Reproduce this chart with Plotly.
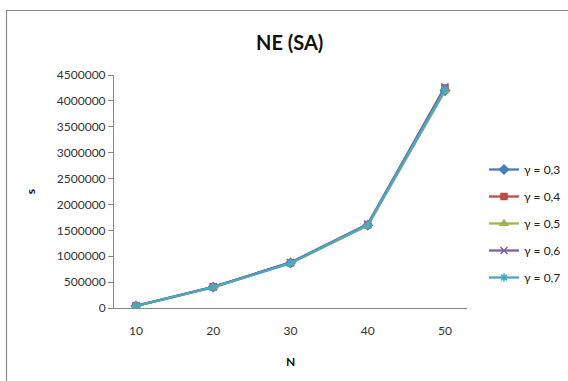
import plotly.graph_objects as go

# Problem size N (category axis)
n_values = ["10", "20", "30", "40", "50"]

# Measured s for each gamma
s_g03 = [40000, 405000, 870000, 1600000, 4200000]
s_g04 = [42000, 410000, 875000, 1610000, 4250000]
s_g05 = [38000, 400000, 865000, 1590000, 4190000]
s_g06 = [41000, 408000, 880000, 1620000, 4270000]
s_g07 = [39000, 402000, 868000, 1605000, 4220000]

series = [
    ("γ = 0,3", s_g03, "#4A7EBB", "diamond", 7),
    ("γ = 0,4", s_g04, "#BE4B48", "square", 6),
    ("γ = 0,5", s_g05, "#98B954", "triangle-up", 7),
    ("γ = 0,6", s_g06, "#7D60A0", "x-thin-open", 7),
    ("γ = 0,7", s_g07, "#46AAC5", "asterisk-open", 7),
]

FONT = "Lato, Carlito, 'Liberation Sans', sans-serif"
W, H = 568, 381
L, R, T, B = 114, 467, 75, 308  # plot area in pixels

fig = go.Figure()
for i, (name, vals, color, symbol, msize) in enumerate(series):
    fig.add_trace(go.Scatter(
        x=n_values, y=vals, name=name, mode="lines+markers",
        legendgroup=f"g{i}",
        line=dict(color=color, width=2.3),
        marker=dict(symbol=symbol, size=msize, color=color,
                    line=dict(color=color, width=1.5)),
    ))

pw, ph = R - L, B - T
def px_x(p):
    return (p - L) / pw
def px_y(p):
    return (B - p) / ph

fig.update_layout(
    width=W, height=H,
    margin=dict(l=L, r=W - R, t=T, b=H - B, autoexpand=False),
    paper_bgcolor="white", plot_bgcolor="white",
    font=dict(family=FONT, size=12, color="#3a3a3a"),
    title=dict(text="<b>NE (SA)</b>", x=0.51, xanchor="center",
               y=1 - 43 / H, yanchor="middle",
               font=dict(family=FONT, size=20, color="#111")),
    showlegend=True,
    legend=dict(x=px_x(484), xanchor="left", y=px_y(155), yanchor="top",
                tracegroupgap=8, traceorder="grouped",
                font=dict(family=FONT, size=12, color="#222"),
                bgcolor="rgba(0,0,0,0)", itemwidth=30),
    xaxis=dict(type="category", showline=True, linecolor="#868686",
               linewidth=1, showgrid=False, zeroline=False,
               ticks="outside", ticklen=12, tickcolor="rgba(0,0,0,0)",
               automargin=False,
               tickfont=dict(size=12, color="#333"),
               title=dict(text="<b>N</b>", standoff=20,
                          font=dict(size=12, color="#111"))),
    yaxis=dict(range=[0, 4500000], dtick=500000, tickformat="d",
               showline=True, linecolor="#868686", linewidth=1,
               ticks="outside", ticklen=5, tickcolor="#868686",
               showgrid=False, zeroline=False, automargin=False,
               tickfont=dict(size=12, color="#333"),
               title=dict(text="<b>s</b>", standoff=18,
                          font=dict(size=12, color="#111"))),
)

# outer chart border
fig.add_shape(type="rect", xref="paper", yref="paper",
              x0=px_x(6.5), x1=px_x(575), y0=px_y(390), y1=px_y(10.5),
              line=dict(color="#8a8a8a", width=1.2), layer="below")

fig.write_html("out.html")
